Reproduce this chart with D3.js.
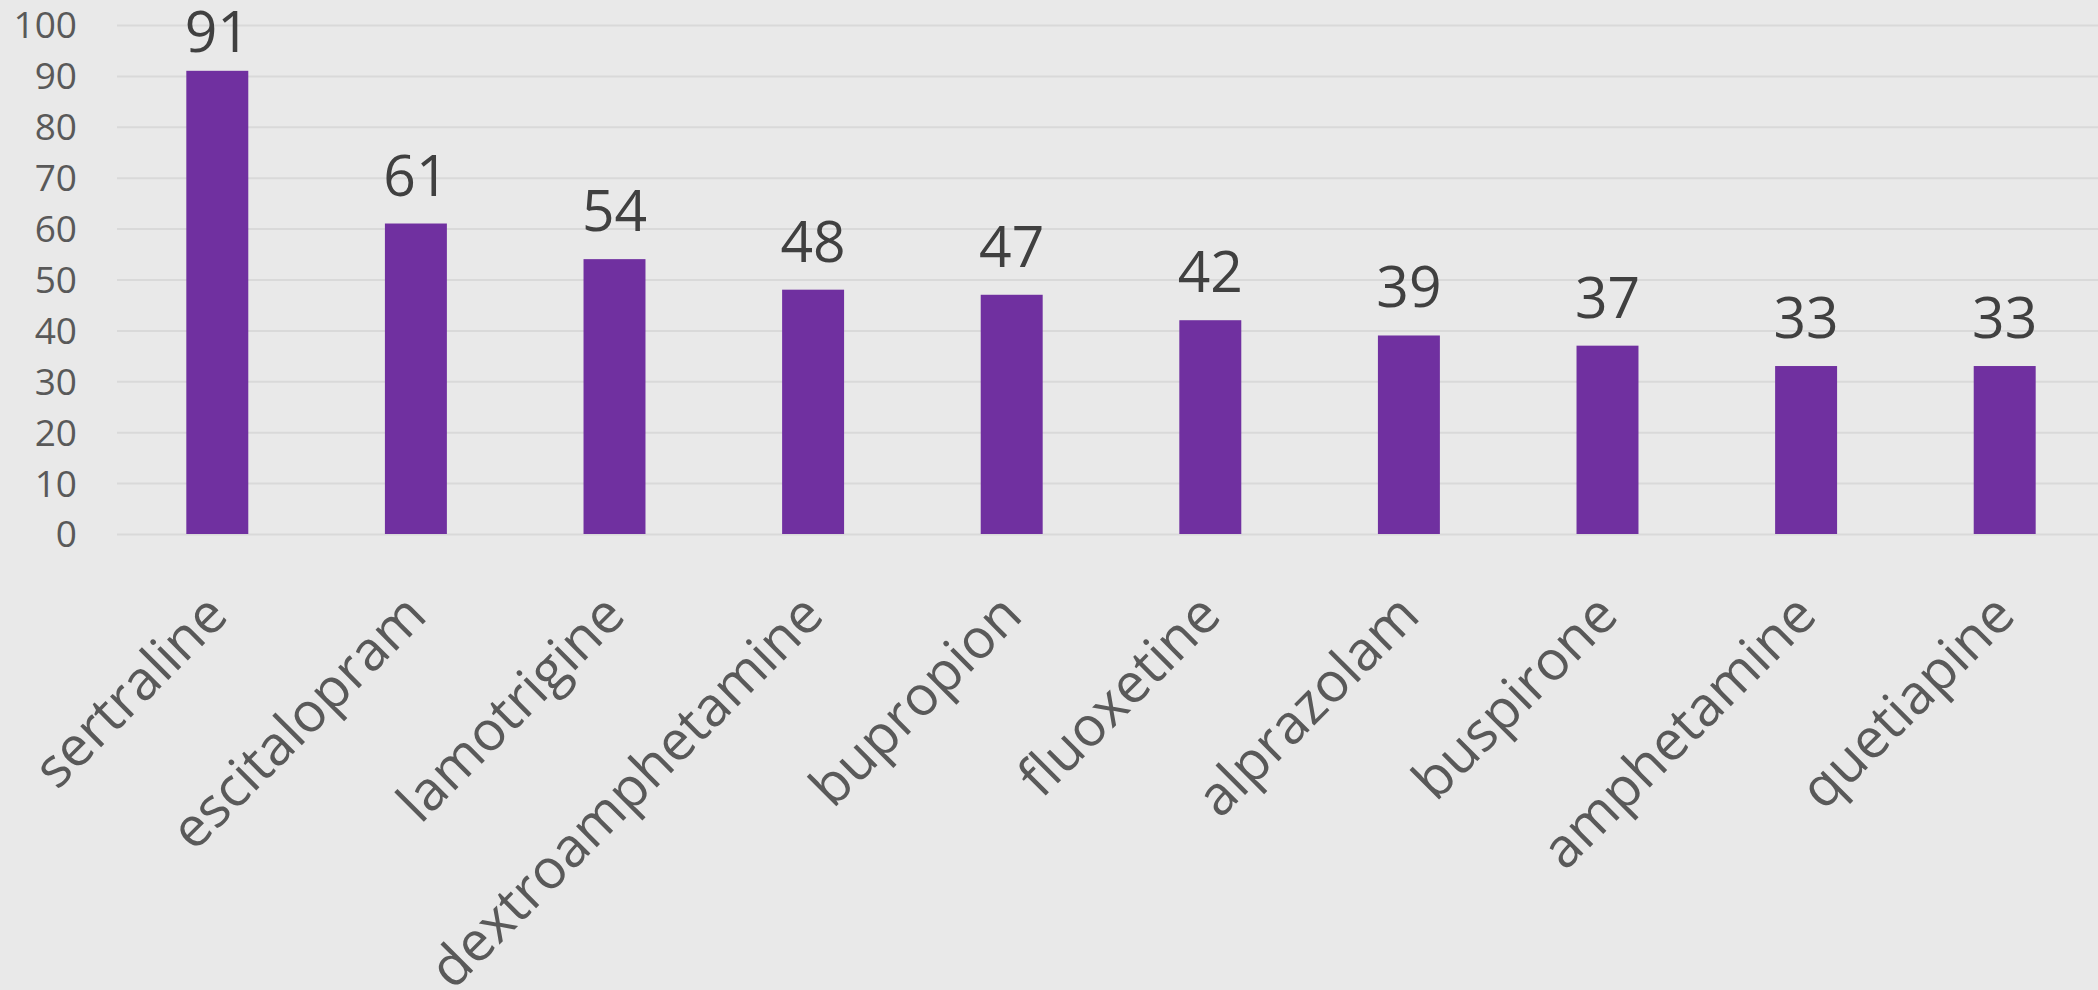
<!DOCTYPE html>
<html>
<head>
<meta charset="utf-8">
<script src="https://cdn.jsdelivr.net/npm/d3@7"></script>
<style>
  html, body { margin: 0; padding: 0; background: #E9E9E9; }
  svg { display: block; }
</style>
</head>
<body>
<svg id="chart" width="2098" height="990"></svg>
<script>
const categories = ["sertraline", "escitalopram", "lamotrigine", "dextroamphetamine", "bupropion", "fluoxetine", "alprazolam", "buspirone", "amphetamine", "quetiapine"];
const values = [91, 61, 54, 48, 47, 42, 39, 37, 33, 33];
const yTicks = [0, 10, 20, 30, 40, 50, 60, 70, 80, 90, 100];

const W = 2098, H = 990;
const svg = d3.select("#chart");
svg.append("rect").attr("width", W).attr("height", H).attr("fill", "#E9E9E9");

const plotLeft = 118, plotRight = 2104, y0 = 534, y100 = 25;
const gap = 0.688;
const x = d3.scaleBand().domain(categories).range([plotLeft, plotRight])
  .paddingInner(gap).paddingOuter(gap / 2);
const y = d3.scaleLinear().domain([0, 100]).range([y0, y100]);

// gridlines
const yAxis = d3.axisLeft(y).tickValues(yTicks).tickSize(-(W - plotLeft + 2)).tickPadding(40);
const gy = svg.append("g").attr("transform", `translate(${plotLeft - 1},0)`).call(yAxis);
gy.select(".domain").remove();
gy.selectAll(".tick line").attr("stroke", "#D9D9D9").attr("stroke-width", 2);
gy.selectAll(".tick text")
  .attr("fill", "#595959")
  .attr("font-family", "'Open Sans', 'Noto Sans', sans-serif")
  .attr("font-size", 37)
  .attr("dy", "0.35em");

// bars
svg.append("g").selectAll("rect").data(values).join("rect")
  .attr("x", (d, i) => x(categories[i]))
  .attr("y", d => y(d))
  .attr("width", x.bandwidth())
  .attr("height", d => y(0) - y(d))
  .attr("fill", "#7030A0");

// data labels (kept inside the chart area at the top)
svg.append("g").selectAll("text").data(values).join("text")
  .attr("x", (d, i) => x(categories[i]) + x.bandwidth() / 2)
  .attr("y", d => Math.max(y(d) - 28, 52))
  .attr("text-anchor", "middle")
  .attr("fill", "#404040")
  .attr("font-family", "'Open Sans', 'Noto Sans', sans-serif")
  .attr("font-size", 57)
  .text(d => d);

// category labels
const xAxis = d3.axisBottom(x).tickSize(0).tickPadding(0);
const gx = svg.append("g").attr("transform", `translate(0,${y0})`).call(xAxis);
gx.select(".domain").remove();
gx.selectAll(".tick text")
  .attr("fill", "#595959")
  .attr("font-family", "'Open Sans', 'Noto Sans', sans-serif")
  .attr("font-size", 55)
  .attr("text-anchor", "end")
  .attr("dy", 0)
  .attr("y", 0)
  .attr("transform", "translate(13,84) rotate(-45)");
</script>
</body>
</html>
